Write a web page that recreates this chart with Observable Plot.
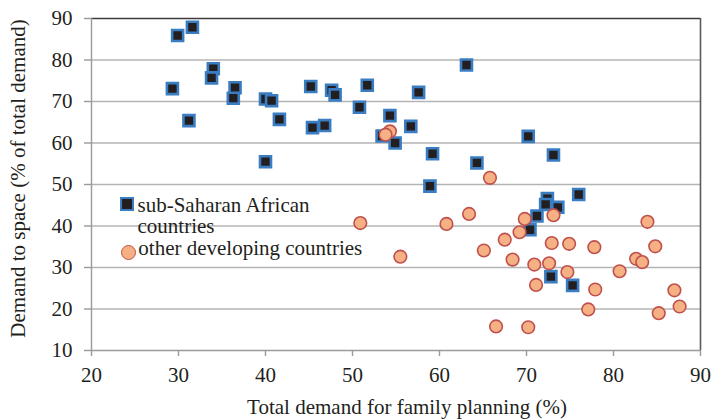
<!DOCTYPE html>
<html>
<head>
<meta charset="utf-8">
<script src="https://cdn.jsdelivr.net/npm/d3@7"></script>
<script src="https://cdn.jsdelivr.net/npm/@observablehq/plot@0.6"></script>
<style>
  html, body { margin: 0; padding: 0; background: #fff; }
  #wrap { position: relative; width: 711px; height: 419px; font-family: 'Liberation Serif', 'DejaVu Serif', serif; color: #231f20; }
  .lg { position: absolute; font-size: 21px; line-height: 21px; white-space: nowrap; color: #231f20; }
  .sq { position: absolute; box-sizing: border-box; width: 14px; height: 14px; background: #231f20; border: 2.5px solid #3a7dc2; }
  .ci { position: absolute; box-sizing: border-box; width: 15px; height: 15px; border-radius: 50%; background: #f5b183; border: 1.6px solid #c0504d; }
</style>
</head>
<body>
<div id="wrap"></div>
<script>
// Sub-Saharan African countries
const ssaX = [29.9,31.6,29.3,31.2,34.0,33.8,36.5,36.3,40.0,40.7,41.6,40.0,45.2,45.4,47.6,48.0,46.8,50.8,51.7,54.3,57.6,63.1,56.7,53.4,54.9,59.2,64.3,58.9,70.2,73.1,76.0,72.4,72.2,73.6,71.2,70.4,72.8,75.3];
const ssaY = [85.9,87.9,73.1,65.4,77.9,75.7,73.3,70.8,70.6,70.2,65.7,55.5,73.6,63.7,72.7,71.6,64.2,68.6,73.9,66.6,72.2,78.8,64.0,61.7,60.0,57.4,55.2,49.6,61.6,57.1,47.6,46.6,45.2,44.5,42.4,39.1,27.8,25.7];
// Other developing countries
const othX = [50.9,55.5,60.8,63.4,65.1,67.5,68.4,69.2,69.8,73.1,70.9,71.1,72.6,72.9,74.9,74.7,77.8,77.9,77.1,80.7,82.6,83.3,83.9,84.8,85.2,87.0,87.6,66.5,70.2,65.8,54.3,53.8];
const othY = [40.7,32.6,40.5,42.9,34.1,36.7,31.9,38.5,41.7,42.6,30.7,25.8,31.0,35.9,35.7,28.9,34.9,24.7,19.9,29.1,32.1,31.3,41.0,35.1,19.0,24.5,20.6,15.8,15.6,51.6,62.8,62.0];

const xTicks = [20,30,40,50,60,70,80,90];
const yTicks = [10,20,30,40,50,60,70,80,90];
const gridTicks = [20,30,40,50,60,70,80];
const seriesNames = ["sub-Saharan African countries", "other developing countries"];
const xTitle = "Total demand for family planning (%)";
const yTitle = "Demand to space (% of total demand)";

const ssa = ssaX.map((x, i) => ({x, y: ssaY[i]}));
const oth = othX.map((x, i) => ({x, y: othY[i]}));

const chart = Plot.plot({
  width: 711,
  height: 419,
  marginLeft: 91,
  marginRight: 11,
  marginTop: 18,
  marginBottom: 69,
  style: { fontFamily: "'Liberation Serif', 'DejaVu Serif', serif", fontSize: "21px", color: "#231f20", background: "#fff" },
  x: { domain: [20, 90] },
  y: { domain: [10, 90] },
  marks: [
    Plot.gridY(gridTicks, { stroke: "#b4b4b4", strokeOpacity: 1, strokeWidth: 1.4 }),
    Plot.ruleY([90], { stroke: "#3c3c3c", strokeWidth: 1.6 }),
    Plot.ruleX([90], { stroke: "#5a5a5a", strokeWidth: 1.6 }),
    Plot.ruleX([20], { stroke: "#9a9a9a", strokeWidth: 1.4 }),
    Plot.ruleY([10], { stroke: "#9a9a9a", strokeWidth: 1.4 }),
    Plot.axisX({ ticks: xTicks, tickSize: 6, tickPadding: 11, stroke: "#9a9a9a", strokeWidth: 1.4, label: null, fill: "#231f20" }),
    Plot.axisY({ ticks: yTicks, tickSize: 7, tickPadding: 12, stroke: "#9a9a9a", strokeWidth: 1.4, label: null, fill: "#231f20" }),
    Plot.dot(ssa, { x: "x", y: "y", symbol: "square", r: 6.2, fill: "#231f20", stroke: "#3a7dc2", strokeWidth: 2.6 }),
    Plot.dot(oth, { x: "x", y: "y", r: 6.3, fill: "#f5b183", stroke: "#c0504d", strokeWidth: 1.6 }),
    Plot.text([xTitle], { frameAnchor: "bottom", text: d => d, dy: 56.5, dx: 11, textAnchor: "middle", lineAnchor: "middle", fill: "#231f20", fontSize: 21 }),
    Plot.text([yTitle], { frameAnchor: "left", text: d => d, rotate: -90, dx: -73.5, dy: -6, textAnchor: "middle", lineAnchor: "middle", fill: "#231f20", fontSize: 21 })
  ]
});

const wrap = document.getElementById("wrap");
wrap.appendChild(chart);

function add(cls, left, top, text, width) {
  const d = document.createElement("div");
  d.className = cls;
  d.style.left = left + "px";
  d.style.top = top + "px";
  if (text) {
    d.textContent = text;
    d.style.whiteSpace = "normal";
    d.style.width = width + "px";
  }
  wrap.appendChild(d);
}
add("sq", 119.5, 196.5);
add("lg", 137.5, 194.7, seriesNames[0], 185);
add("ci", 120.7, 245);
add("lg", 138.3, 238.4, seriesNames[1], 260);
</script>
</body>
</html>
